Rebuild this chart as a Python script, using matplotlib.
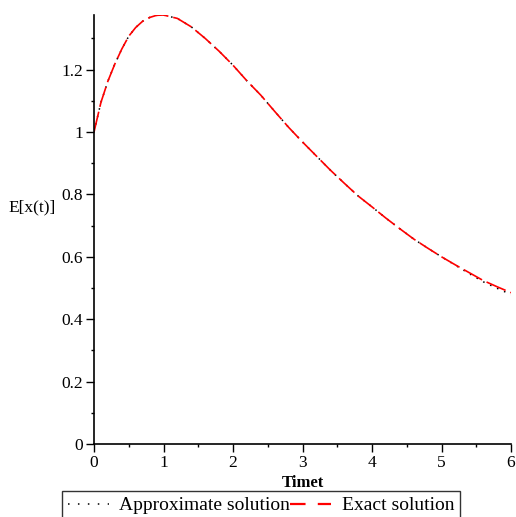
import matplotlib
matplotlib.use("Agg")
import matplotlib.pyplot as plt
from matplotlib.lines import Line2D
from matplotlib.ticker import MultipleLocator, FixedLocator

plt.rcParams['font.family'] = ['Liberation Serif', 'DejaVu Serif']

t_vals = [0.0, 0.1, 0.2, 0.3, 0.4, 0.5, 0.6, 0.7, 0.8, 0.9, 1.0, 1.2, 1.4, 1.6,
          1.8, 2.0, 2.2, 2.4, 2.6, 2.8, 3.0, 3.2, 3.4, 3.6, 3.8, 4.0, 4.2, 4.4,
          4.6, 4.8, 5.0, 5.2, 5.4, 5.6, 5.8, 6.0]
exact_vals = [1.000, 1.095, 1.163, 1.218, 1.266, 1.307, 1.335, 1.355, 1.367, 1.374,
              1.375, 1.364, 1.337, 1.300, 1.259, 1.214, 1.164, 1.118, 1.066, 1.015,
              0.968, 0.923, 0.878, 0.836, 0.795, 0.760, 0.724, 0.690, 0.657, 0.628,
              0.600, 0.574, 0.549, 0.524, 0.504, 0.485]
approx_vals = [1.000, 1.095, 1.163, 1.218, 1.266, 1.307, 1.335, 1.355, 1.367, 1.374,
               1.375, 1.364, 1.337, 1.300, 1.259, 1.214, 1.164, 1.118, 1.066, 1.015,
               0.968, 0.923, 0.878, 0.836, 0.795, 0.760, 0.724, 0.690, 0.657, 0.628,
               0.600, 0.573, 0.546, 0.520, 0.499, 0.479]

x_ticks = [0, 1, 2, 3, 4, 5, 6]
y_ticks = [0, 0.2, 0.4, 0.6, 0.8, 1, 1.2]
y_tick_labels = ['0', '0.2', '0.4', '0.6', '0.8', '1', '1.2']

fig = plt.figure(figsize=(5.16, 5.17), dpi=100)
ax = fig.add_axes([94/516, 1-444/517, (511-94)/516, (444-15)/517])

ax.plot(t_vals, approx_vals, color='black', lw=1.1, linestyle=(0, (1, 4)))
ax.plot(t_vals, exact_vals, color='#ff0000', lw=1.2, dashes=(12.5, 3))

ax.set_xlim(0, 6)
ax.set_ylim(0, 1.375)
for s in ['top', 'right']:
    ax.spines[s].set_visible(False)
for s in ['left', 'bottom']:
    ax.spines[s].set_linewidth(1.2)

ax.xaxis.set_major_locator(FixedLocator(x_ticks))
ax.xaxis.set_minor_locator(MultipleLocator(0.5))
ax.yaxis.set_major_locator(FixedLocator(y_ticks))
ax.set_yticklabels(y_tick_labels)
ax.yaxis.set_minor_locator(MultipleLocator(0.1))
ax.tick_params(which='major', direction='out', length=5.5, width=1.0, labelsize=12.5, pad=2.5)
ax.tick_params(which='minor', direction='out', length=2.5, width=1.0)

ax.set_xlabel('Timet', fontsize=12, fontweight='bold', labelpad=3)
fig.text(8/516, 1-207/517, 'E[x(t)]', fontsize=12.5, ha='left', va='center')

handles = [Line2D([], [], color='black', lw=1.1, linestyle=(0, (1, 5.5))),
           Line2D([], [], color='#ff0000', lw=1.6, dashes=(7, 5.5))]
leg = fig.legend(handles, ['Approximate solution', 'Exact solution'],
                 loc='upper left', bbox_to_anchor=(62/516, 1-491/517), ncol=2,
                 fontsize=14, frameon=True, fancybox=False, edgecolor='black',
                 handlelength=2.1, handletextpad=0.55, columnspacing=0.0,
                 borderpad=0.3, borderaxespad=0)
leg.get_frame().set_linewidth(1.0)

fig.savefig('out.png', dpi=100)
